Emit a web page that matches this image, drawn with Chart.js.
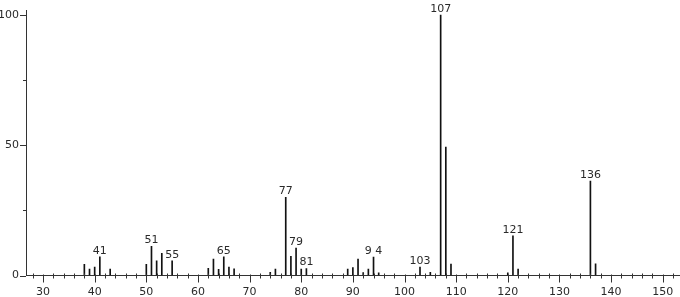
<!DOCTYPE html>
<html><head><meta charset="utf-8">
<script src="https://cdn.jsdelivr.net/npm/chart.js@4.4.1/dist/chart.umd.min.js"></script>
<style>html,body{margin:0;padding:0;background:#fff;}#wrap{width:680px;height:297px;position:relative;}</style>
</head><body><div id="wrap"><canvas id="c" width="680" height="297"></canvas></div>
<script>
const mzValues = [38,39,40,41,43,50,51,52,53,55,62,63,64,65,66,67,74,75,77,78,79,80,81,89,90,91,92,93,94,95,103,105,107,108,109,120,121,122,136,137];
const intensities = [4.3,2.5,3.2,7.2,2.5,4.3,11.2,5.6,8.5,5.6,2.8,6.3,2.4,7.2,3.2,2.6,1.2,2.5,30,7.4,10.5,2.5,2.7,2.5,3,6.3,1.1,2.5,7.1,1,3.2,1.2,100,49.3,4.4,1,15.2,2.5,36.3,4.5];
const peakLabelMz = [41,51,55,65,77,79,81,94,103,107,121,136];
const peakLabelText = ['41','51','55','65','77','79','81','9 4','103','107','121','136'];
const xTickLabels = [30,40,50,60,70,80,90,100,110,120,130,140,150];
const yTickLabels = [0,50,100];
const yMinorTicks = [25,75];

const FONT = 'DejaVu Sans';
const ink = '#2a2a2a';

const tickPlugin = {
  id: 'ticks2',
  afterDraw(chart) {
    const ctx = chart.ctx, xs = chart.scales.x, ys = chart.scales.y;
    const y0 = ys.getPixelForValue(0) ;
    const xl = chart.chartArea.left;
    ctx.save();
    ctx.strokeStyle = '#333';
    ctx.lineWidth = 1;
    for (let v = 28; v <= 152; v += 2) {
      const x = Math.round(xs.getPixelForValue(v)) + 0.5;
      ctx.beginPath();
      if (v % 10 === 0) { ctx.moveTo(x, y0 - 1); ctx.lineTo(x, y0 + 7); }
      else { ctx.moveTo(x, y0 - 2); ctx.lineTo(x, y0 + 3); }
      ctx.stroke();
    }
    yTickLabels.forEach(v => {
      const y = Math.round(ys.getPixelForValue(v)) + 0.5;
      ctx.beginPath(); ctx.moveTo(xl - 6, y); ctx.lineTo(xl, y); ctx.stroke();
    });
    yMinorTicks.forEach(v => {
      const y = Math.round(ys.getPixelForValue(v)) + 0.5;
      ctx.beginPath(); ctx.moveTo(xl - 3, y); ctx.lineTo(xl, y); ctx.stroke();
    });
    // peak labels
    ctx.fillStyle = ink;
    ctx.font = '11px "' + FONT + '"';
    ctx.textAlign = 'center';
    ctx.textBaseline = 'alphabetic';
    peakLabelMz.forEach((m, i) => {
      const idx = mzValues.indexOf(m);
      const x = xs.getPixelForValue(m);
      const y = ys.getPixelForValue(intensities[idx]);
      ctx.fillText(peakLabelText[i], x, y - 3);
    });
    ctx.restore();
  }
};

new Chart(document.getElementById('c'), {
  type: 'bar',
  data: {
    datasets: [{
      data: mzValues.map((m, i) => ({x: m, y: intensities[i]})),
      backgroundColor: '#111',
      borderWidth: 0,
      barThickness: 1,
      grouped: false
    }]
  },
  options: {
    responsive: false,
    animation: false,
    events: [],
    layout: { padding: { top: 10.7, left: 0, right: 0, bottom: 0 } },
    plugins: { legend: { display: false }, tooltip: { enabled: false } },
    scales: {
      x: {
        type: 'linear',
        min: 26.7, max: 153.35,
        offset: false,
        afterBuildTicks: s => { s.ticks = xTickLabels.map(v => ({value: v})); },
        afterFit: s => { s.height = 21.5; s.paddingLeft = 0; s.paddingRight = 0; },
        grid: { display: true, drawOnChartArea: false, drawTicks: false },
        border: { display: true, color: '#333', width: 1 },
        ticks: { color: ink, font: { family: FONT, size: 11 }, padding: 10, maxRotation: 0, autoSkip: false }
      },
      y: {
        min: 0, max: 101.7,
        afterBuildTicks: s => { s.ticks = yTickLabels.map(v => ({value: v})); },
        afterFit: s => { s.width = 26; s.paddingTop = 0; s.paddingBottom = 0; },
        grid: { display: true, drawOnChartArea: false, drawTicks: false },
        border: { display: true, color: '#333', width: 1 },
        ticks: { color: ink, font: { family: FONT, size: 11 }, padding: 7 }
      }
    }
  },
  plugins: [tickPlugin]
});
</script></body></html>
